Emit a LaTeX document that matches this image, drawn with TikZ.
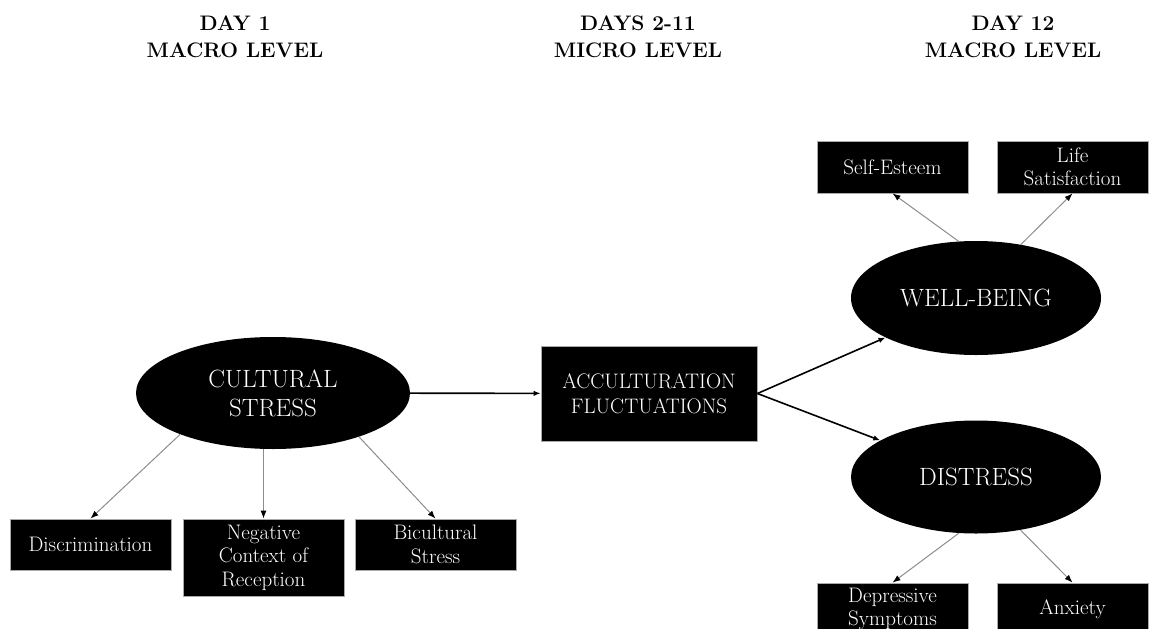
\documentclass[tikz,border=0pt]{standalone}
\usepackage{tikz}
\usetikzlibrary{shapes.geometric,arrows.meta}
\definecolor{edge_gray}{RGB}{140,140,140}
\definecolor{frame_gray}{RGB}{170,170,170}

\begin{document}
\begin{tikzpicture}[x=1pt,y=-1pt,
    header/.style={align=center,font=\fontsize{21}{27}\selectfont\bfseries},
    latent/.style={ellipse,fill=black,text=white,inner sep=0pt,align=center,
        minimum width=274pt,minimum height=112pt,font=\fontsize{25}{29}\selectfont},
    mediator/.style={rectangle,fill=black,draw=frame_gray,line width=0.8pt,text=white,
        inner sep=0pt,align=center,minimum width=216pt,minimum height=95pt,
        font=\fontsize{21}{25}\selectfont},
    indicator/.style={rectangle,fill=black,draw=frame_gray,line width=0.8pt,text=white,
        inner sep=0pt,align=center,minimum width=151pt,minimum height=52pt,
        font=\fontsize{21}{23.5}\selectfont},
    main/.style={-{Latex[length=7pt,width=5.5pt]},line width=1.6pt,black},
    link/.style={-{Latex[length=8pt,width=6pt,black]},line width=1pt,edge_gray}]
        \useasboundingbox (0,0) rectangle (1151,629);
        \clip (0,0) rectangle (1151,629);
        % Column headers
        \node[header] (H1) at (235,37) {DAY 1\\MACRO LEVEL};
        \node[header] (H2) at (638,37) {DAYS 2-11\\MICRO LEVEL};
        \node[header] (H3) at (1013,37) {DAY 12\\MACRO LEVEL};
        % Latent variables
        \node[latent] (CS) at (273,393) {CULTURAL\\STRESS};
        \node[latent, minimum width=250pt, minimum height=114pt] (WB) at (976,298) {WELL-BEING};
        \node[latent, minimum width=250pt, minimum height=113pt] (DS) at (976,477) {DISTRESS};
        \node[mediator] (AF) at (649,393.5) {ACCULTURATION\\FLUCTUATIONS};
        % Indicators
        \node[indicator, minimum width=161pt, minimum height=51pt] (DI) at (90.5,544.5) {Discrimination};
        \node[indicator, minimum width=161pt, minimum height=77pt] (NC) at (263.5,557.5) {Negative\\Context of\\Reception};
        \node[indicator, minimum width=161pt, minimum height=51pt] (BS) at (435.5,544.5) {Bicultural\\Stress};
        \node[indicator] (SE) at (892.5,167) {Self-Esteem};
        \node[indicator] (LS) at (1072.5,167) {Life\\Satisfaction};
        \node[indicator] (DP) at (892.5,609) {Depressive\\Symptoms};
        \node[indicator] (AX) at (1072.5,609) {Anxiety};
        % Structural paths
        \draw[main] (CS) -- (AF);
        \draw[main] (AF.east) -- (WB);
        \draw[main] (AF.east) -- (DS);
        % Measurement paths
        \draw[link] (CS.204) -- (DI.north);
        \draw[link] (CS.south -| NC.north) -- (NC.north);
        \draw[link] (CS.333) -- (BS.north);
        \draw[link] (WB.107) -- (SE.south);
        \draw[link] (WB.50) -- (LS.south);
        \draw[link] (DS.253) -- (DP.north);
        \draw[link] (DS.310) -- (AX.north);
\end{tikzpicture}
\end{document}
